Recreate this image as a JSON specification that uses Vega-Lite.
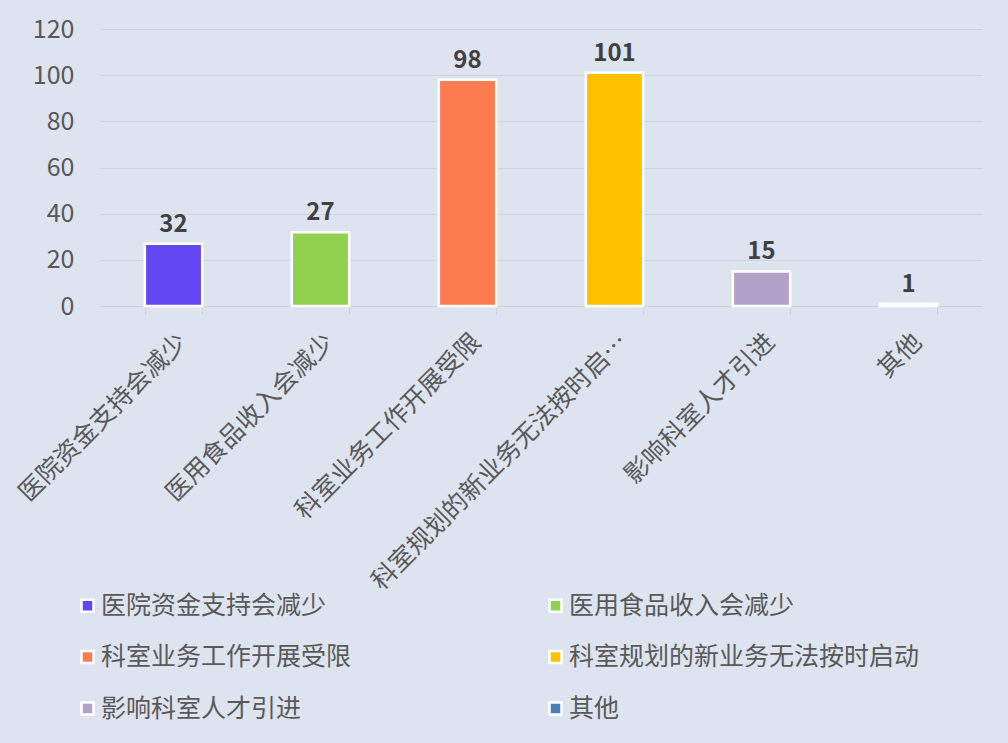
{
  "$schema": "https://vega.github.io/schema/vega-lite/v6.json",
  "autosize": {"type": "none"},
  "width": 882,
  "height": 277,
  "padding": {"left": 100, "top": 29, "right": 26, "bottom": 437},
  "background": "#dde4ef",
  "config": {
    "view": {"stroke": null},
    "font": "Noto Sans CJK SC"
  },
  "data": {
    "values": [
      {"category": "医院资金支持会减少", "value": 27, "label": "32"},
      {"category": "医用食品收入会减少", "value": 32, "label": "27"},
      {"category": "科室业务工作开展受限", "value": 98, "label": "98"},
      {"category": "科室规划的新业务无法按时启动", "value": 101, "label": "101"},
      {"category": "影响科室人才引进", "value": 15, "label": "15"},
      {"category": "其他", "value": 1, "label": "1"}
    ]
  },
  "encoding": {
    "x": {
      "field": "category",
      "type": "nominal",
      "sort": null,
      "scale": {"paddingInner": 0.61, "paddingOuter": 0.305},
      "axis": {
        "title": null,
        "labelAngle": -45,
        "labelAlign": "right",
        "labelBaseline": "top",
        "labelFontSize": 25,
        "labelColor": "#595959",
        "labelPadding": 15,
        "labelLimit": 500,
        "labelExpr": "length(datum.label) > 13 ? substring(datum.label, 0, 13) + '…' : datum.label",
        "labelFont": "Noto Sans CJK SC",
        "tickBand": "extent",
        "tickSize": 8,
        "tickColor": "#c9d1dd",
        "domainColor": "#c9d1dd",
        "grid": false
      }
    }
  },
  "layer": [
    {
      "mark": {"type": "bar", "stroke": "white", "strokeWidth": 2.5},
      "encoding": {
        "y": {
          "field": "value",
          "type": "quantitative",
          "scale": {"domain": [0, 120], "nice": false},
          "axis": {
            "title": null,
            "values": [0, 20, 40, 60, 80, 100, 120],
            "domain": false,
            "ticks": false,
            "labelFontSize": 25,
            "labelColor": "#595959",
            "labelPadding": 26,
            "labelFont": "Noto Sans CJK SC",
            "gridColor": "#cdd5e1",
            "gridWidth": 1
          }
        },
        "color": {
          "field": "category",
          "type": "nominal",
          "scale": {
            "domain": ["医院资金支持会减少", "医用食品收入会减少", "科室业务工作开展受限", "科室规划的新业务无法按时启动", "影响科室人才引进", "其他"],
            "range": ["#6347f3", "#92d050", "#ff7c50", "#ffc000", "#b3a2c7", "#4a7ebb"]
          },
          "legend": {
            "title": null,
            "orient": "none",
            "direction": "horizontal",
            "legendX": -25,
            "legendY": 564,
            "columns": 2,
            "columnPadding": 191,
            "rowPadding": 25.5,
            "symbolType": "square",
            "symbolSize": 144,
            "symbolStrokeColor": "white",
            "symbolStrokeWidth": 2.5,
            "labelFontSize": 25,
            "labelColor": "#595959",
            "labelOffset": 1,
            "labelFont": "Noto Sans CJK SC",
            "labelLimit": 400
          }
        }
      }
    },
    {
      "mark": {"type": "text", "dy": -12, "baseline": "alphabetic", "fontSize": 24, "fontWeight": "bold", "color": "#404040", "font": "Noto Sans CJK SC"},
      "encoding": {
        "y": {"field": "value", "type": "quantitative"},
        "text": {"field": "label"}
      }
    }
  ]
}
